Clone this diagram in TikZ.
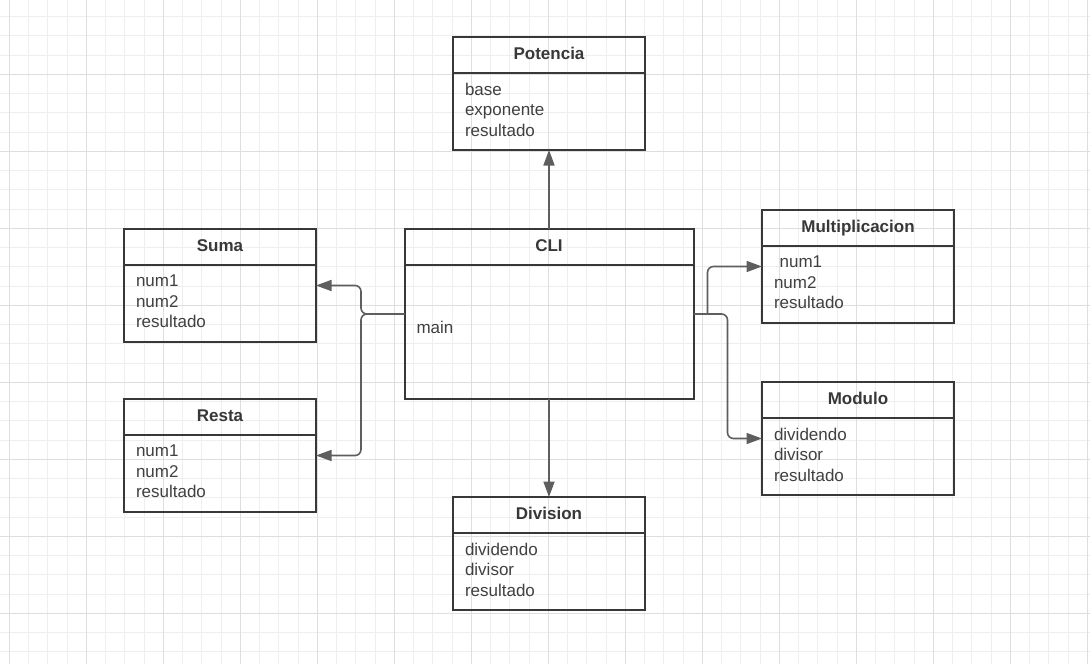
\documentclass[tikz,border=0pt]{standalone}
\usepackage{fontspec}
\setmainfont{Liberation Sans}
\usetikzlibrary{arrows.meta, positioning, calc, fit}

\definecolor{gridminor}{HTML}{EEEEEE}
\definecolor{gridmajor}{HTML}{DEDEDE}
\definecolor{boxline}{HTML}{383838}
\definecolor{boxtext}{HTML}{404040}
\definecolor{connline}{HTML}{5E5E5E}

\tikzset{
  classhead/.style={draw=boxline, line width=2pt, outer sep=0pt, inner sep=0pt,
    minimum width=192pt, minimum height=36pt, text height=12pt, text depth=3.5pt,
    font=\fontsize{17}{20.5}\selectfont\bfseries, text=boxline},
  classbody/.style={draw=boxline, line width=2pt, outer sep=0pt, inner xsep=12pt, inner ysep=0pt,
    text width=168pt, minimum height=77pt, align=left,
    font=\fontsize{17}{20.5}\selectfont, text=boxtext,
    execute at end node={\par\vspace{4pt}\nointerlineskip\hbox{}}},
  classbox/.style={inner sep=0pt, outer sep=0pt},
  conn/.style={draw=connline, line width=1.6pt, rounded corners=6pt,
    -{Triangle[length=15.5pt, width=11pt]}},
}

\begin{document}
\begin{tikzpicture}[x=1pt, y=-1pt]
    \useasboundingbox (0,0) rectangle (1090,664);
    \fill[white] (0,0) rectangle (1090,664);

    % Grid
    \begin{scope}
        \clip (0,0) rectangle (1090,664);
        \foreach \i in {0,...,57}
            \draw[gridminor, line width=0.9pt] ({-9.95+19.25*\i},0) -- ++(0,664);
        \foreach \j in {0,...,35}
            \draw[gridminor, line width=0.9pt] (0,{-2.7+19.25*\j}) -- ++(1090,0);
        \foreach \i in {0,...,14}
            \draw[gridmajor, line width=0.9pt] ({9.3+77*\i},0) -- ++(0,664);
        \foreach \j in {0,...,9}
            \draw[gridmajor, line width=0.9pt] (0,{-2.7+77*\j}) -- ++(1090,0);
    \end{scope}

    % Potencia
    \node[classhead] (poth) at (549,55) {Potencia};
    \node[classbody, below=0pt of poth] (potb) {base\\exponente\\resultado};
    \node[classbox, fit=(poth)(potb)] (pot) {};

    % CLI
    \node[classhead, minimum width=289pt] (clih) at (549,247) {CLI};
    \node[classbody, below=0pt of clih, text width=265pt, minimum height=134pt,
        execute at end node={\par\vspace{6pt}\nointerlineskip\hbox{}}] (clib) {main};
    \node[classbox, fit=(clih)(clib)] (cli) {};

    % Suma
    \node[classhead] (sumah) at (220,247) {Suma};
    \node[classbody, below=0pt of sumah] (sumab) {num1\\num2\\resultado};
    \node[classbox, fit=(sumah)(sumab)] (suma) {};

    % Resta
    \node[classhead] (restah) at (220,417) {Resta};
    \node[classbody, below=0pt of restah] (restab) {num1\\num2\\resultado};
    \node[classbox, fit=(restah)(restab)] (resta) {};

    % Multiplicacion
    \node[classhead] (multh) at (858,228) {Multiplicacion};
    \node[classbody, below=0pt of multh] (multb) {\ num1\\num2\\resultado};
    \node[classbox, fit=(multh)(multb)] (mult) {};

    % Modulo
    \node[classhead] (modh) at (858,400) {Modulo};
    \node[classbody, below=0pt of modh] (modb) {dividendo\\divisor\\resultado};
    \node[classbox, fit=(modh)(modb)] (mod) {};

    % Division
    \node[classhead] (divh) at (549,515) {Division};
    \node[classbody, below=0pt of divh] (divb) {dividendo\\divisor\\resultado};
    \node[classbox, fit=(divh)(divb)] (div) {};

    % Connectors
    \draw[conn] (cli.north) -- (pot.south);
    \draw[conn] (cli.south) -- (div.north);

    \coordinate (lsplit) at ($(cli.west)+(-43.5,0)$);
    \draw[conn] (cli.west) -- (lsplit) |- (suma.east);
    \draw[conn] (cli.west) -- (lsplit) |- (resta.east);

    \coordinate (rsplitA) at ($(cli.east)+(14,0)$);
    \coordinate (rsplitB) at ($(cli.east)+(34,0)$);
    \draw[conn] (rsplitA) |- (mult.west);
    \draw[conn] (cli.east) -- (rsplitB) |- (mod.west);
\end{tikzpicture}
\end{document}
